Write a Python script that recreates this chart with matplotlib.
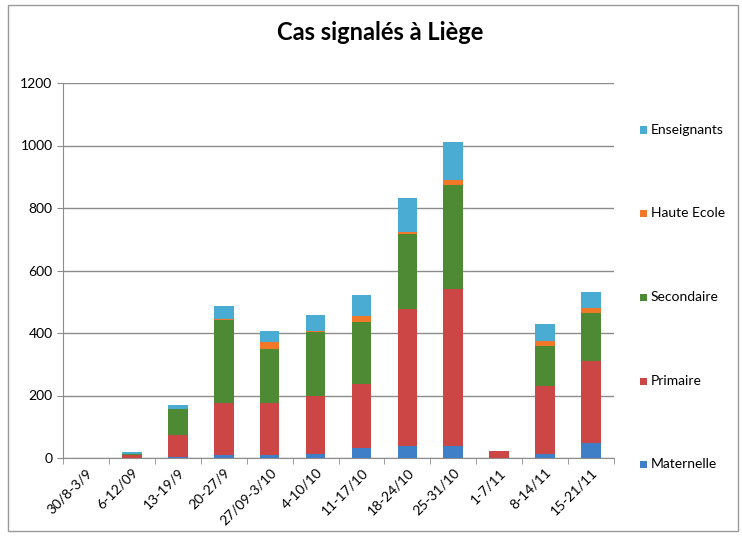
import matplotlib
matplotlib.use("Agg")
import matplotlib.pyplot as plt
import numpy as np
from matplotlib.patches import Rectangle

plt.rcParams['font.family'] = ['Lato', 'DejaVu Sans']

categories = ["30/8-3/9", "6-12/09", "13-19/9", "20-27/9", "27/09-3/10", "4-10/10",
              "11-17/10", "18-24/10", "25-31/10", "1-7/11", "8-14/11", "15-21/11"]
maternelle = [0, 0, 3, 10, 11, 13, 31, 39, 39, 0, 13, 48]
primaire = [0, 10, 72, 166, 165, 187, 207, 439, 503, 23, 216, 261]
secondaire = [0, 4, 82, 265, 174, 203, 197, 238, 332, 0, 131, 156]
haute_ecole = [0, 0, 0, 5, 21, 4, 19, 8, 16, 0, 14, 15]
enseignants = [0, 6, 14, 41, 35, 52, 67, 107, 122, 0, 56, 52]

series = [("Maternelle", maternelle, "#3F7FC8"),
          ("Primaire", primaire, "#CC4646"),
          ("Secondaire", secondaire, "#4E8A33"),
          ("Haute Ecole", haute_ecole, "#F07828"),
          ("Enseignants", enseignants, "#4AACD2")]

W, H = 742, 541
fig = plt.figure(figsize=(W / 100, H / 100), dpi=100)
ax = fig.add_axes([63 / W, 1 - 458 / H, (614 - 63) / W, (458 - 83) / H])

x = np.arange(len(categories))
bottom = np.zeros(len(categories))
for name, vals, col in series:
    v = np.array(vals, dtype=float)
    ax.bar(x, v, width=0.43, bottom=bottom, color=col, label=name, zorder=3)
    bottom += v

ax.set_ylim(0, 1200)
ax.set_xlim(-0.5, len(categories) - 0.5)
ax.set_yticks(np.arange(0, 1201, 200))
ax.yaxis.grid(True, color="#8C8C8C", linewidth=1.0, zorder=0)
ax.set_xticks(x)
ax.set_xticklabels(categories, rotation=45, ha="right", rotation_mode="anchor", fontsize=10)
ax.tick_params(axis="x", length=0, pad=6)
ax.set_xticks(np.arange(-0.5, len(categories), 1), minor=True)
ax.tick_params(axis="x", which="minor", length=4, color="#8C8C8C")
ax.tick_params(axis="y", labelsize=10, length=4, color="#8C8C8C")
for s in ["top", "right"]:
    ax.spines[s].set_visible(False)
for s in ["left", "bottom"]:
    ax.spines[s].set_color("#8C8C8C")

fig.text(380 / W, 1 - 33 / H, "Cas signalés à Liège", ha="center", va="center",
         fontsize=17, fontweight="bold")

# legend, top entry first (reverse of stacking order)
leg_y = [464, 381, 297, 213, 130]
for (name, vals, col), yy in zip(series, leg_y):
    fig.patches.append(Rectangle((640 / W, 1 - (yy + 3.5) / H), 7 / W, 7 / H,
                                 transform=fig.transFigure, facecolor=col, edgecolor="none"))
    fig.text(651 / W, 1 - yy / H, name, ha="left", va="center", fontsize=10)

fig.patches.append(Rectangle((8 / W, 1 - 531 / H), 730 / W, 526 / H, transform=fig.transFigure,
                             fill=False, edgecolor="#9A9A9A", linewidth=1.0))

fig.savefig("out.png", dpi=100)
